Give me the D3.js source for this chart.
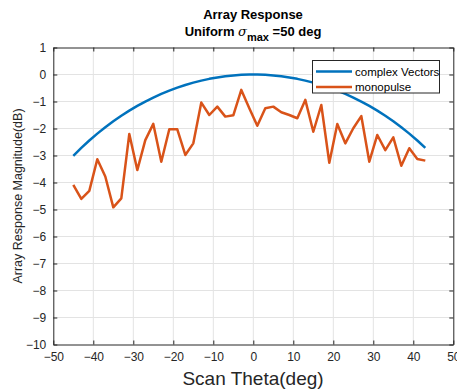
<!DOCTYPE html>
<html>
<head>
<meta charset="utf-8">
<script src="https://cdn.jsdelivr.net/npm/d3@7"></script>
<style>
  html, body { margin: 0; padding: 0; background: #fff; }
  svg { display: block; font-family: "Liberation Sans", Arial, sans-serif; }
</style>
</head>
<body>
<svg id="chart" width="457" height="390"></svg>
<script>
// Scan angles (deg)
const theta = [-45,-43,-41,-39,-37,-35,-33,-31,-29,-27,-25,-23,-21,-19,-17,-15,-13,-11,-9,-7,-5,-3,-1,
               1,3,5,7,9,11,13,15,17,19,21,23,25,27,29,31,33,35,37,39,41,43];

// Array response using complex steering vectors (dB)
const complexVectors = [-3.010,-2.718,-2.445,-2.190,-1.953,-1.733,-1.528,-1.339,-1.164,-1.002,-0.855,-0.720,
  -0.597,-0.487,-0.388,-0.301,-0.226,-0.161,-0.108,-0.065,-0.033,-0.012,-0.001,
  -0.001,-0.012,-0.033,-0.065,-0.108,-0.161,-0.226,-0.301,-0.388,-0.487,-0.597,-0.720,-0.855,-1.002,
  -1.164,-1.339,-1.528,-1.733,-1.953,-2.190,-2.445,-2.718];

// Array response using monopulse (dB)
const monopulse = [-4.09,-4.61,-4.31,-3.14,-3.78,-4.92,-4.59,-2.20,-3.54,-2.43,-1.83,-3.23,-2.03,-2.03,
  -2.98,-2.55,-1.04,-1.50,-1.19,-1.56,-1.51,-0.57,-1.25,-1.90,-1.25,-1.19,-1.40,-1.50,-1.62,-0.94,
  -2.12,-1.13,-3.27,-1.83,-2.55,-1.99,-1.54,-3.23,-2.24,-2.80,-2.33,-3.38,-2.73,-3.13,-3.19];

const xTicks = [-50,-40,-30,-20,-10,0,10,20,30,40,50];
const yTicks = [1,0,-1,-2,-3,-4,-5,-6,-7,-8,-9,-10];

const seriesNames = ["complex Vectors", "monopulse"];
const seriesColors = ["#0072BD", "#D95319"];

const svg = d3.select("#chart");
const plot = { left: 53.3, right: 453.3, top: 47.5, bottom: 344.5 };

const x = d3.scaleLinear().domain([-50, 50]).range([plot.left, plot.right]);
const y = d3.scaleLinear().domain([-10, 1]).range([plot.bottom, plot.top]);

const axisColor = "#262626";
const gridColor = "#e3e3e3";

// grid
const grid = svg.append("g");
grid.selectAll("line.gx").data(xTicks.slice(1, -1)).join("line")
  .attr("x1", d => x(d)).attr("x2", d => x(d))
  .attr("y1", plot.top).attr("y2", plot.bottom)
  .attr("stroke", gridColor).attr("stroke-width", 1);
grid.selectAll("line.gy").data(yTicks.slice(1, -1)).join("line")
  .attr("y1", d => y(d)).attr("y2", d => y(d))
  .attr("x1", plot.left).attr("x2", plot.right)
  .attr("stroke", gridColor).attr("stroke-width", 1);

// axes
const xAxis = d3.axisBottom(x).tickValues(xTicks).tickSizeInner(-4).tickSizeOuter(0).tickPadding(8);
const yAxis = d3.axisLeft(y).tickValues(yTicks).tickSizeInner(-4).tickSizeOuter(0).tickPadding(7);
const xTop = d3.axisTop(x).tickValues(xTicks).tickSizeInner(-4).tickSizeOuter(0).tickFormat("");
const yRight = d3.axisRight(y).tickValues(yTicks).tickSizeInner(-4).tickSizeOuter(0).tickFormat("");

function styleAxis(g) {
  g.selectAll("path").attr("stroke", axisColor).attr("stroke-width", 1);
  g.selectAll("line").attr("stroke", axisColor).attr("stroke-width", 1);
  g.selectAll("text").attr("fill", axisColor).style("font-size", "12px")
    .style("font-family", "'Liberation Sans', Arial, sans-serif");
}
svg.append("g").attr("transform", `translate(0,${plot.bottom})`).call(xAxis).call(styleAxis);
svg.append("g").attr("transform", `translate(${plot.left},0)`).call(yAxis).call(styleAxis);
svg.append("g").attr("transform", `translate(0,${plot.top})`).call(xTop).call(styleAxis);
svg.append("g").attr("transform", `translate(${plot.right},0)`).call(yRight).call(styleAxis);

// series
const line = d3.line().x(d => x(d[0])).y(d => y(d[1]));
const series = [complexVectors, monopulse];
series.forEach((vals, i) => {
  svg.append("path")
    .datum(theta.map((t, j) => [t, vals[j]]))
    .attr("d", line)
    .attr("fill", "none")
    .attr("stroke", seriesColors[i])
    .attr("stroke-width", 2.5)
    .attr("stroke-linejoin", "round");
});

// legend
const lg = svg.append("g");
lg.append("rect").attr("x", 312.5).attr("y", 60.5).attr("width", 127).attr("height", 32.5)
  .attr("fill", "#fff").attr("stroke", axisColor).attr("stroke-width", 1);
seriesNames.forEach((name, i) => {
  const yy = 71.5 + i * 15.5;
  lg.append("line").attr("x1", 316).attr("x2", 352).attr("y1", yy).attr("y2", yy)
    .attr("stroke", seriesColors[i]).attr("stroke-width", 2.5);
  lg.append("text").attr("x", 355).attr("y", yy + 4).text(name)
    .attr("fill", "#000").style("font-size", "11.5px");
});

// titles
svg.append("text").attr("x", 253).attr("y", 19).attr("text-anchor", "middle")
  .style("font-weight", "bold").style("font-size", "13px").attr("fill", "#000")
  .text("Array Response");
const t2 = svg.append("text").attr("x", 253).attr("y", 36).attr("text-anchor", "middle")
  .style("font-weight", "bold").style("font-size", "13px").attr("fill", "#000");
t2.append("tspan").text("Uniform ");
t2.append("tspan").text("σ").style("font-style", "italic").style("font-family", "'DejaVu Serif', serif").style("font-weight", "normal");
t2.append("tspan").text("max").attr("dy", 5).style("font-size", "11px");
t2.append("tspan").text(" =50 deg").attr("dy", -5);

svg.append("text").attr("x", 253).attr("y", 385).attr("text-anchor", "middle")
  .style("font-size", "19px").attr("fill", axisColor).text("Scan Theta(deg)");
svg.append("text").attr("transform", "translate(22,196) rotate(-90)").attr("text-anchor", "middle")
  .style("font-size", "12.5px").attr("fill", axisColor).text("Array Response Magnitude(dB)");
</script>
</body>
</html>
